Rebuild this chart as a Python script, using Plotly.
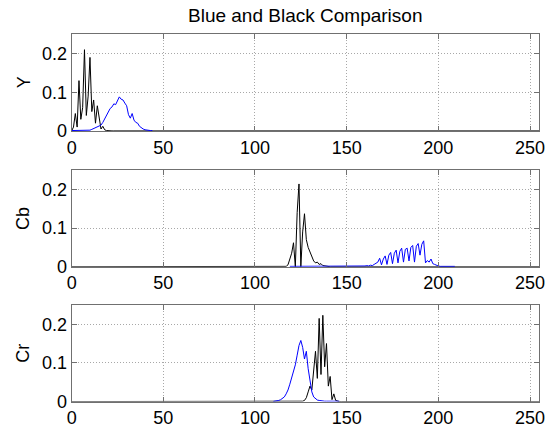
import plotly.graph_objects as go
from plotly.subplots import make_subplots

# ---- data (256-bin histograms) ----
bins = list(range(256))

y_black_start = 0
y_black_vals = [0.0, 0.01, 0.045, 0.01, 0.13, 0.03, 0.06, 0.21, 0.04, 0.09,
                0.19, 0.05, 0.08, 0.02, 0.065, 0.04, 0.005, 0.012, 0.003, 0.001]
y_blue_start = 0
y_blue_vals = [0.001, 0.001, 0.001, 0.001, 0.001, 0.001, 0.001, 0.001, 0.001, 0.001,
               0.002, 0.004, 0.006, 0.008, 0.01, 0.012, 0.015, 0.022, 0.032, 0.04,
               0.048, 0.058, 0.062, 0.07, 0.068, 0.078, 0.088, 0.082, 0.08, 0.072,
               0.065, 0.042, 0.033, 0.045, 0.028, 0.022, 0.02, 0.012, 0.008, 0.005,
               0.003, 0.002, 0.001, 0.001, 0.001]

cb_black_start = 116
cb_black_vals = [0.0, 0.001, 0.005, 0.02, 0.035, 0.062, 0.0, 0.14, 0.214, 0.0,
                 0.09, 0.137, 0.07, 0.05, 0.038, 0.025, 0.015, 0.01, 0.012, 0.006,
                 0.008, 0.003, 0.002, 0.001]
cb_blue_start = 119
cb_blue_vals = [
    0.001, 0.001, 0.001, 0.001, 0.001, 0.001, 0.001, 0.001, 0.001, 0.001,
    0.001, 0.001, 0.001, 0.001, 0.001, 0.001, 0.001, 0.001, 0.001, 0.001,
    0.001, 0.001, 0.001, 0.001, 0.001, 0.001, 0.001, 0.001, 0.001, 0.001,
    0.001, 0.001, 0.001, 0.001, 0.001, 0.001, 0.001, 0.001, 0.001, 0.001,
    0.001, 0.002, 0.003, 0.002, 0.004, 0.003, 0.006, 0.008, 0.012, 0.022,
    0.005, 0.02, 0.028, 0.006, 0.03, 0.037, 0.008, 0.035, 0.043, 0.01,
    0.04, 0.048, 0.012, 0.045, 0.048, 0.015, 0.05, 0.055, 0.012, 0.053,
    0.06, 0.03, 0.058, 0.067, 0.01, 0.016, 0.012, 0.02, 0.008, 0.006,
    0.003, 0.002, 0.001, 0.001, 0.001, 0.001, 0.001, 0.001, 0.001, 0.001,
    0.001]

cr_black_start = 126
cr_black_vals = [0.001, 0.003, 0.01, 0.025, 0.04, 0.03, 0.09, 0.13, 0.06, 0.215,
                 0.07, 0.223, 0.09, 0.15, 0.04, 0.065, 0.005, 0.02, 0.003, 0.001]
cr_blue_start = 110
cr_blue_vals = [0.0005, 0.001, 0.002, 0.003, 0.005, 0.008, 0.012, 0.02, 0.03, 0.045,
                0.06, 0.075, 0.095, 0.12, 0.145, 0.158, 0.14, 0.11, 0.13, 0.085,
                0.05, 0.025, 0.012, 0.007, 0.004, 0.003, 0.002, 0.002, 0.001, 0.001,
                0.001, 0.001, 0.001, 0.001, 0.001, 0.001, 0.001]

channel_names = ["Y", "Cb", "Cr"]
x_ticks = [0, 50, 100, 150, 200, 250]
y_ticks = [0, 0.1, 0.2]
y_tick_text = ["0", "0.1", "0.2"]
title_text = "Blue and Black Comparison"


def full(start, vals):
    """Black curves: whole 0..255 range, zero outside listed bins."""
    out = [0.0] * len(bins)
    for i, v in enumerate(vals):
        out[start + i] = v
    return out


def segment(start, vals):
    return list(range(start, start + len(vals))), list(vals)


series = [
    (full(y_black_start, y_black_vals), segment(y_blue_start, y_blue_vals)),
    (full(cb_black_start, cb_black_vals), segment(cb_blue_start, cb_blue_vals)),
    (full(cr_black_start, cr_black_vals), segment(cr_blue_start, cr_blue_vals)),
]

W, H = 554, 437
left_px, right_px = 68, 545
panels_px = [(35, 134), (174, 273), (312, 411)]  # top, bottom (pixels)

fig = make_subplots(rows=3, cols=1)
FONT = "Liberation Sans, Arial, Helvetica, sans-serif"

for r, (blk, (bx, by)) in enumerate(series, start=1):
    fig.add_trace(go.Scatter(x=bins, y=blk, mode="lines",
                             line=dict(color="black", width=1), showlegend=False),
                  row=r, col=1)
    fig.add_trace(go.Scatter(x=bx, y=by, mode="lines",
                             line=dict(color="#0000ff", width=1), showlegend=False),
                  row=r, col=1)

axis_common = dict(showline=True, mirror="ticks", linecolor="#707070", linewidth=1,
                   ticks="inside", ticklen=5, tickcolor="#707070",
                   showgrid=True, gridcolor="#a8a8a8", griddash="1px,2px", gridwidth=1,
                   zeroline=False,
                   tickfont=dict(family=FONT, size=18, color="black"))

for r in range(1, 4):
    top, bot = panels_px[r - 1]
    fig.update_xaxes(axis_common, range=[0, 255], tickvals=x_ticks,
                     domain=[left_px / W, right_px / W], row=r, col=1)
    fig.update_yaxes(axis_common, range=[0, 0.25], tickvals=y_ticks, ticktext=y_tick_text,
                     domain=[1 - bot / H, 1 - top / H], row=r, col=1)
    fig.add_annotation(text=channel_names[r - 1], xref="paper", yref="paper",
                       x=19 / W, y=1 - ((top + bot) / 2) / H, showarrow=False,
                       textangle=-90, xanchor="center", yanchor="middle",
                       font=dict(family=FONT, size=18, color="black"))

fig.add_annotation(text=title_text, xref="paper", yref="paper",
                   x=(left_px + right_px) / 2 / W, y=1 - 16 / H, showarrow=False,
                   xanchor="center", yanchor="middle",
                   font=dict(family=FONT, size=19, color="black"))

fig.update_layout(width=W, height=H, margin=dict(l=0, r=0, t=0, b=0),
                  plot_bgcolor="white", paper_bgcolor="white", showlegend=False)

fig.write_html("out.html")
